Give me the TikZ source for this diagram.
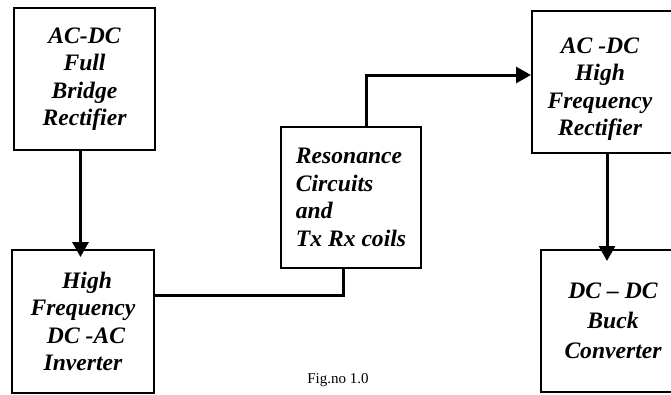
\documentclass[tikz,border=0pt]{standalone}
\usepackage{fontspec}
\setmainfont{Liberation Serif}
\usetikzlibrary{arrows.meta}
\begin{document}
\begin{tikzpicture}[x=1pt,y=-1pt,
  box/.style={draw, line width=2pt, inner sep=0pt, align=center,
    font=\bfseries\itshape\fontsize{23.6}{27.5}\selectfont},
  lbl/.style={inner sep=0pt, align=center,
    font=\bfseries\itshape\fontsize{23.6}{27.5}\selectfont},
  conn/.style={line width=3pt},
  tipped/.style={-{Triangle[width=16pt,length=15pt]}}]
\useasboundingbox (0,0) rectangle (671,394);
\clip (0,0) rectangle (671,394);
\node[box, minimum width=141pt, minimum height=142pt] (b1) at (84.5,79) {AC-DC\\Full\\Bridge\\Rectifier};
\node[box, minimum width=142pt, minimum height=143pt] (b2) at (83,321.5) {\hspace*{8pt}High\\Frequency\\\hspace*{6pt}DC -AC\\Inverter};
\node[box, minimum width=140pt, minimum height=141pt, align=left] (b3) at (351,197.5) {Resonance\\Circuits\\and\\Tx Rx coils};
\node[box, minimum width=146pt, minimum height=142pt] (b4) at (605,82) {};
\node[lbl] (t4) at (600,89) {AC -DC\\High\\Frequency\\Rectifier};
\node[box, minimum width=144pt, minimum height=142pt, font=\bfseries\itshape\fontsize{23.6}{30}\selectfont] (b5) at (613,321) {DC -- DC\\Buck\\Converter};
\node[anchor=base, inner sep=0pt, font=\fontsize{15}{18}\selectfont] (cap) at (338,383) {Fig.no 1.0};
\coordinate (p1) at ([xshift=-4pt]b1.south);
\draw[conn,tipped] (p1) -- ([yshift=-8pt]p1 |- b2.north);
\draw[conn] ([yshift=26.5pt]b2.east) -| ([xshift=-8pt]b3.south);
\draw[conn,tipped] ([xshift=15pt]b3.north) |- ([yshift=7pt]b4.west);
\coordinate (p2) at ([xshift=2pt]b4.south);
\draw[conn,tipped] (p2) -- ([yshift=-12pt]p2 |- b5.north);
\end{tikzpicture}
\end{document}
